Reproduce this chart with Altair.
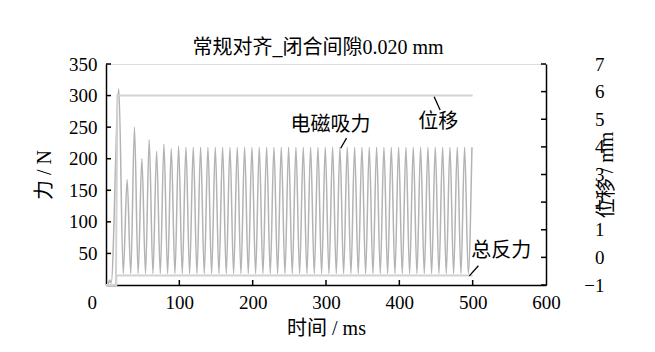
import altair as alt
import pandas as pd

title_text = "常规对齐_闭合间隙0.020 mm"
x_title = "时间 / ms"
yl_title = "力 / N"
yr_title = "位移 / mm"

# electromagnetic force (N) vs time (ms)
start_time = [0, 2.5, 5, 7]
start_force = [0, 0, 8, 3]
peak_time = [17.5, 28.8, 38.8, 48.9, 58.9, 69, 79, 89, 99,
             109, 119, 129, 139, 149, 159, 169, 179, 189, 199,
             209, 219, 229, 239, 249, 259, 269, 279, 289, 299,
             309, 319, 329, 339, 349, 359, 369, 379, 389, 399,
             409, 419, 429, 439, 449, 459, 469, 479, 489, 499]
peak_force = [311, 167, 250, 200, 230, 212, 223, 216, 220,
              218, 218, 218, 218, 218, 218, 218, 218, 218, 218,
              218, 218, 218, 218, 218, 218, 218, 218, 218, 218,
              218, 218, 218, 218, 218, 218, 218, 218, 218, 218,
              218, 218, 218, 218, 218, 218, 218, 218, 218, 218]
trough_time = [23.5, 33.8, 43.8, 53.9, 64, 74, 84, 94,
               104, 114, 124, 134, 144, 154, 164, 174, 184, 194,
               204, 214, 224, 234, 244, 254, 264, 274, 284, 294,
               304, 314, 324, 334, 344, 354, 364, 374, 384, 394,
               404, 414, 424, 434, 444, 454, 464, 474, 484, 494]
trough_force = [18, 18, 18, 18, 18, 18, 18, 18,
                18, 18, 18, 18, 18, 18, 18, 18, 18, 18,
                18, 18, 18, 18, 18, 18, 18, 18, 18, 18,
                18, 18, 18, 18, 18, 18, 18, 18, 18, 18,
                18, 18, 18, 18, 18, 18, 18, 18, 18, 18]

# total reaction force (N)
react_time = [0, 14, 14, 500]
react_force = [0, 0, 15, 15]

# displacement (mm)
disp_time = [0, 13.5, 15.5, 500]
disp_mm = [-1, -1, 5.86, 5.86]

x_ticks = [0, 100, 200, 300, 400, 500, 600]
force_ticks = [50, 100, 150, 200, 250, 300, 350]
disp_ticks = [-1, 0, 1, 2, 3, 4, 5, 6, 7]

ann_text = ["电磁吸力", "位移", "总反力"]
ann_time = [306, 453, 539]
ann_force = [253, 258, 54]
lead_t1 = [328, 447.5, 507.8]
lead_f1 = [232.5, 298, 30.4]
lead_t2 = [320, 455.6, 495.5]
lead_f2 = [216.6, 277, 14.5]

FONT = "Liberation Serif, Noto Sans CJK SC"

em_df = pd.DataFrame({
    "t": start_time + peak_time + trough_time,
    "f": start_force + peak_force + trough_force,
}).sort_values("t").reset_index(drop=True)
em_df["i"] = range(len(em_df))
react_df = pd.DataFrame({"t": react_time, "f": react_force, "i": range(len(react_time))})
disp_df = pd.DataFrame({"t": disp_time, "d": disp_mm, "i": range(len(disp_time))})
ann_df = pd.DataFrame({"txt": ann_text, "t": ann_time, "f": ann_force})
lead_df = pd.DataFrame({"t": lead_t1, "f1": lead_f1, "t2": lead_t2, "f2": lead_f2})
xt_df = pd.DataFrame({"t": x_ticks[1:-1]})
ft_df = pd.DataFrame({"v": force_ticks})
dt_df = pd.DataFrame({"v": disp_ticks})

W, H = 440, 221
xs = alt.Scale(domain=[0, 600], nice=False, zero=False)
fs = alt.Scale(domain=[0, 350], nice=False, zero=False)
ds = alt.Scale(domain=[-1, 7], nice=False, zero=False)

axis_style = dict(
    labelFont=FONT, titleFont=FONT, labelFontSize=19, titleFontSize=20,
    titleFontWeight="normal", labelColor="black", titleColor="black",
    domainColor="black", domainWidth=1.5, grid=False, ticks=False,
)

x_axis = alt.Axis(
    values=x_ticks, title=x_title, format="d",
    labelExpr="datum.value == 0 ? '0\u00a0\u00a0\u200b' : datum.label",
    labelAlign={"condition": {"test": "datum.value == 0", "value": "right"}, "value": "center"},
    labelPadding=8, titlePadding=6, **axis_style)
X = alt.X("t:Q", scale=xs, axis=x_axis)

em_line = alt.Chart(em_df).mark_line(
    color="#b3b3b3", strokeWidth=1.5, interpolate="monotone"
).encode(
    x=X,
    y=alt.Y("f:Q", scale=fs, axis=alt.Axis(
        values=force_ticks, title=yl_title, orient="left", format="d",
        labelPadding=9, titlePadding=14, **axis_style)),
    order="i:Q",
)

react_line = alt.Chart(react_df).mark_line(color="#d2d2d2", strokeWidth=2).encode(
    x=X,
    y=alt.Y("f:Q", scale=fs, axis=None),
    order="i:Q",
)

left_ticks = alt.Chart(ft_df).mark_rule(color="black", strokeWidth=1.5).encode(
    y=alt.Y("v:Q", scale=fs, axis=None),
    x=alt.value(0), x2=alt.value(5),
)
bottom_ticks = alt.Chart(xt_df).mark_rule(color="black", strokeWidth=1.5).encode(
    x=X,
    y=alt.value(H), y2=alt.value(H - 5),
)

ann = alt.Chart(ann_df).mark_text(
    font=FONT, fontSize=20, color="black", align="center", baseline="middle"
).encode(
    x=X,
    y=alt.Y("f:Q", scale=fs, axis=None),
    text="txt:N",
)
leads = alt.Chart(lead_df).mark_rule(color="black", strokeWidth=1.3).encode(
    x=X, x2="t2:Q",
    y=alt.Y("f1:Q", scale=fs, axis=None), y2="f2:Q",
)

disp_line = alt.Chart(disp_df).mark_line(color="#d2d2d2", strokeWidth=2).encode(
    x=X,
    y=alt.Y("d:Q", scale=ds, axis=alt.Axis(
        values=disp_ticks, title=yr_title, orient="right", format="d",
        labelAlign="right", labelPadding=58, titlePadding=12, titleAngle=270,
        **axis_style)),
    order="i:Q",
)
right_ticks = alt.Chart(dt_df).mark_rule(color="black", strokeWidth=1.5).encode(
    y=alt.Y("v:Q", scale=ds, axis=None),
    x=alt.value(W), x2=alt.value(W - 5),
)

chart = alt.layer(
    em_line, disp_line, react_line, left_ticks, bottom_ticks, right_ticks, leads, ann
).resolve_scale(y="independent").properties(
    width=W, height=H,
    title=alt.TitleParams(title_text, font=FONT, fontSize=20, fontWeight="normal",
                          color="black", offset=-3, dx=-8),
    autosize=alt.AutoSizeParams(type="none"),
    padding={"left": 106, "top": 64, "right": 109, "bottom": 67},
).configure_view(stroke=None).configure(background="white")

chart.save("out.html", embed_options={"renderer": "svg", "actions": False})
